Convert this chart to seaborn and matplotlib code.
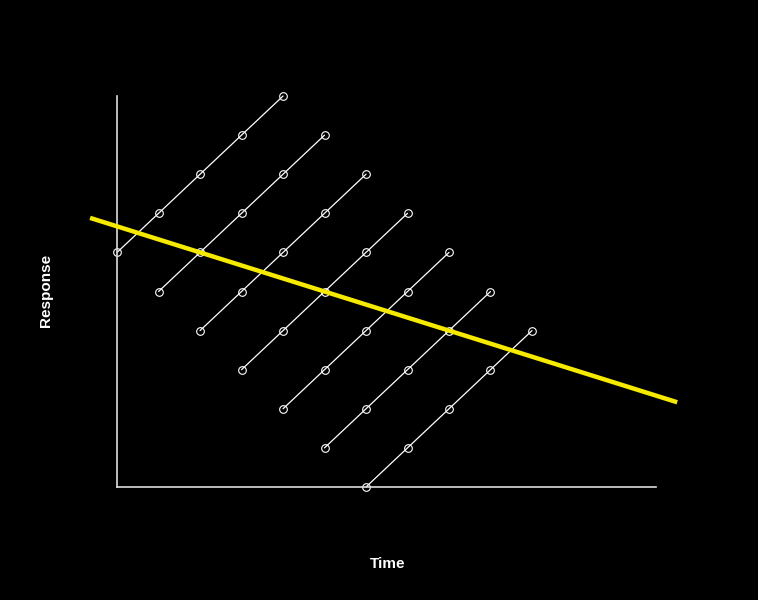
import numpy as np
import pandas as pd
import matplotlib
matplotlib.use("Agg")
import matplotlib.pyplot as plt
import seaborn as sns

# Repeated measures: 7 subjects, each measured at 5 consecutive times
subject = [1]*5 + [2]*5 + [3]*5 + [4]*5 + [5]*5 + [6]*5 + [7]*5
time = [0, 1, 2, 3, 4,
        1, 2, 3, 4, 5,
        2, 3, 4, 5, 6,
        3, 4, 5, 6, 7,
        4, 5, 6, 7, 8,
        5, 6, 7, 8, 9,
        6, 7, 8, 9, 10]
response = [6, 7, 8, 9, 10,
            5, 6, 7, 8, 9,
            4, 5, 6, 7, 8,
            3, 4, 5, 6, 7,
            2, 3, 4, 5, 6,
            1, 2, 3, 4, 5,
            0, 1, 2, 3, 4]

df = pd.DataFrame({"Subject": subject, "Time": time, "Response": response})

sns.set_style("dark", {"axes.facecolor": "black", "figure.facecolor": "black"})
plt.rcParams["font.family"] = ["Liberation Sans", "DejaVu Sans"]

fig = plt.figure(figsize=(7.58, 6), dpi=100)
ax = fig.add_axes([0.1161, 0.1558, 0.7828, 0.7167])
ax.set_facecolor("black")

# within-subject lines
sns.lineplot(data=df, x="Time", y="Response", units="Subject", estimator=None,
             color="white", lw=0.9, marker="o", markersize=5.5,
             markerfacecolor="none", markeredgecolor="white", markeredgewidth=0.8,
             ax=ax, zorder=2)

# pooled regression line (ignores subjects)
slope, intercept = np.polyfit(df["Time"], df["Response"], 1)
xfit = np.array([-0.65, 13.5])
ax.plot(xfit, intercept + slope * xfit, color="#f5ea00", lw=3.2,
        solid_capstyle="butt", zorder=3)

ax.set_xlim(-0.7, 13.6)
ax.set_ylim(-0.5, 10.5)
ax.set_xticks([])
ax.set_yticks([])
ax.grid(False)

for side in ["top", "right"]:
    ax.spines[side].set_visible(False)
ax.spines["left"].set_position(("data", 0))
ax.spines["left"].set_bounds(0, 10)
ax.spines["bottom"].set_position(("data", 0))
ax.spines["bottom"].set_bounds(0, 13)
for side in ["left", "bottom"]:
    ax.spines[side].set_visible(True)
    ax.spines[side].set_color("#dddddd")
    ax.spines[side].set_linewidth(1.2)

ax.set_xlabel("Time", color="white", fontsize=11, fontweight="bold")
ax.set_ylabel("Response", color="white", fontsize=11, fontweight="bold")
ax.xaxis.set_label_coords(0.5056, -0.117)
ax.yaxis.set_label_coords(-0.059, 0.5035)

fig.savefig("out.png", dpi=100, facecolor="black")
